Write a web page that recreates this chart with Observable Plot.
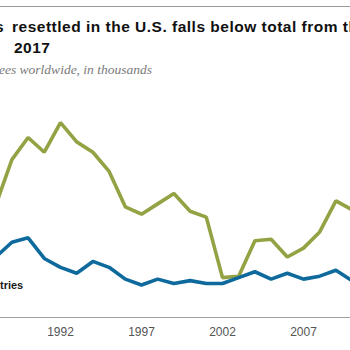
<!DOCTYPE html>
<html>
<head>
<meta charset="utf-8">
<script src="https://cdn.jsdelivr.net/npm/d3@7"></script>
<script src="https://cdn.jsdelivr.net/npm/@observablehq/plot@0.6"></script>
<style>
  html, body { margin: 0; padding: 0; background: #fff; }
  #wrap { position: relative; width: 350px; height: 350px; overflow: hidden; background: #fff; }
  .rule { position: absolute; left: 0; top: 6px; width: 350px; height: 1px; background: #9a9a9a; }
  .line { position: absolute; white-space: nowrap; }
  .pre { position: absolute; top: 0; white-space: pre; }
  .title { font-family: "Liberation Sans", Arial, sans-serif; font-weight: bold; font-size: 15.5px; letter-spacing: 0.5px; line-height: 18px; color: #111; }
  .sub { font-family: "Liberation Serif", "DejaVu Serif", serif; font-style: italic; font-size: 13.5px; line-height: 16px; color: #7a7a7a; }
  #chart { position: absolute; left: 0; top: 85px; }
</style>
</head>
<body>
<div id="wrap">
  <div class="rule"></div>
  <div class="line title" style="left:12px; top:18px;"><span class="pre" style="right:calc(100% + 8px)">Number of refugees</span>resettled in the U.S. falls below total from the rest of the world</div>
  <div class="line title" style="left:14px; top:39px;"><span class="pre" style="right:calc(100% + 14px)">rest of the world in</span>2017</div>
  <div class="line sub" style="left:-1px; top:62px;"><span class="pre" style="right:100%">Number of resettled refug</span>ees worldwide, in thousands</div>
  <div id="chart"></div>
</div>
<script>
const years = [1988,1989,1990,1991,1992,1993,1994,1995,1996,1997,1998,1999,2000,2001,2002,2003,2004,2005,2006,2007,2008,2009,2010];
const usValues = [76,107,122,112,132,119,112,99,75,70,77,84,72,68,27,28,52,53,41,47,58,79,73];
const otherValues = [41,51,54,40,34,30,38,34,26,22,26,23,25,23,23,27,31,26,30,26,28,32,25];
const tickYears = [1992,1997,2002,2007];
const seriesLabels = [{year: 1989.7, value: 19, text: "Other countries"}];

const rows = [];
years.forEach((y, i) => {
  rows.push({year: y, value: usValues[i], series: "U.S."});
  rows.push({year: y, value: otherValues[i], series: "Other"});
});

const chart = Plot.plot({
  width: 350,
  height: 265,
  marginLeft: 0,
  marginRight: 0,
  marginTop: 0,
  marginBottom: 33,
  style: {background: "transparent", overflow: "hidden"},
  x: {domain: [1988, 2010], range: [-4.8, 351.6]},
  y: {domain: [0, 140], range: [232, 25.4]},
  marks: [
    Plot.ruleY([0], {stroke: "#a0a0a0", strokeWidth: 1}),
    Plot.line(rows.filter(d => d.series === "U.S."), {x: "year", y: "value", stroke: "#93a243", strokeWidth: 3.6, strokeLinejoin: "miter", strokeLinecap: "butt"}),
    Plot.line(rows.filter(d => d.series === "Other"), {x: "year", y: "value", stroke: "#0e6a9c", strokeWidth: 3.6, strokeLinejoin: "miter", strokeLinecap: "butt"}),
    Plot.text(seriesLabels, {x: "year", y: "value", text: "text", textAnchor: "end", lineAnchor: "bottom", fontWeight: "bold", fontSize: 11, fill: "#1a1a1a", fontFamily: "Liberation Sans, Arial, sans-serif"}),
    Plot.axisX({ticks: tickYears, tickSize: 0, tickPadding: 10, tickFormat: d => String(d), fontSize: 12, fill: "#555", fontFamily: "Liberation Sans, Arial, sans-serif", label: null}),
    Plot.axisY({ticks: [], label: null})
  ]
});
document.getElementById("chart").appendChild(chart);
</script>
</body>
</html>
